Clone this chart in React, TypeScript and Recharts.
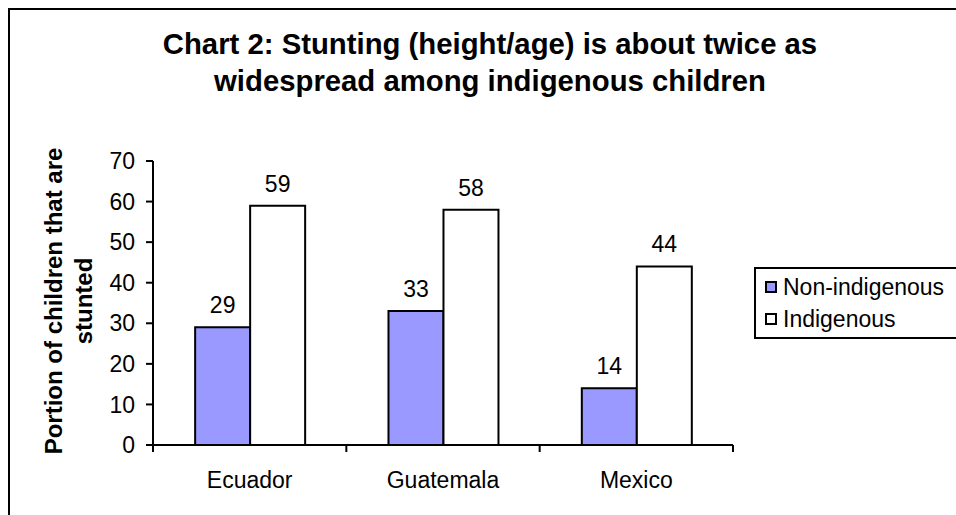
import React from "react";
import { Bar, BarChart, LabelList, Legend, XAxis, YAxis } from "recharts";

const countries = ["Ecuador", "Guatemala", "Mexico"];
const nonIndigenous = [29, 33, 14];
const indigenous = [59, 58, 44];
const yTicks = [0, 10, 20, 30, 40, 50, 60, 70];
const seriesNames = ["Non-indigenous", "Indigenous"];

const titleLines = [
    "Chart 2: Stunting (height/age) is about twice as",
    "widespread among indigenous children",
];
const yLabelLines = ["Portion of children that are", "stunted"];

const data = countries.map((name, i) => ({
    name,
    nonIndigenous: nonIndigenous[i],
    indigenous: indigenous[i],
}));

const FONT = '"Liberation Sans", Arial, sans-serif';
const CHART_W = 956;
const CHART_H = 515;

// Excel puts category ticks between groups, not under them
function CategoryTick(props: any) {
    const { x, y, payload, index } = props;
    const band = props.width ? props.width / countries.length : 193.3;
    return (
        <g>
            <line x1={x - band / 2} x2={x - band / 2} y1={y} y2={y + 7} stroke="#000" strokeWidth={2} />
            {index === countries.length - 1 && (
                <line x1={x + band / 2} x2={x + band / 2} y1={y} y2={y + 7} stroke="#000" strokeWidth={2} />
            )}
            <text x={x} y={y + 43} textAnchor="middle" fontSize={23} fontFamily={FONT} fill="#000">
                {payload.value}
            </text>
        </g>
    );
}

function YTitle(props: any) {
    const vb = props.viewBox || { x: 93, y: 161, width: 60, height: 284 };
    const cy = vb.y + vb.height / 2 - 2;
    const cx = 62;
    return (
        <text
            x={cx}
            y={cy}
            transform={`rotate(-90, ${cx}, ${cy})`}
            textAnchor="middle"
            fontSize={24}
            fontWeight="bold"
            fontFamily={FONT}
            fill="#000"
        >
            {yLabelLines.map((line, i) => (
                <tspan key={line} x={cx} dy={i === 0 ? 0 : 30}>
                    {line}
                </tspan>
            ))}
        </text>
    );
}

function LegendBox({ payload }: any) {
    const items = [...(payload || [])].sort(
        (a: any, b: any) => seriesNames.indexOf(a.value) - seriesNames.indexOf(b.value)
    );
    return (
        <div
            style={{
                border: "2px solid #000",
                borderRight: "none",
                padding: "2px 0 2px 9px",
                fontFamily: FONT,
                fontSize: 23,
                background: "#fff",
                width: 300,
            }}
        >
            {items.map((entry: any) => (
                <div key={entry.value} style={{ display: "flex", alignItems: "center", height: 32 }}>
                    <span
                        style={{
                            display: "inline-block",
                            width: 8,
                            height: 8,
                            border: "2px solid #000",
                            background: entry.color,
                            marginRight: 6,
                        }}
                    />
                    <span>{entry.value}</span>
                </div>
            ))}
        </div>
    );
}

export default function App() {
    return (
        <div
            style={{
                position: "fixed",
                left: 0,
                top: 0,
                width: CHART_W,
                height: CHART_H,
                overflow: "hidden",
                background: "#fff",
                fontFamily: FONT,
            }}
        >
            <div
                style={{
                    position: "absolute",
                    left: 8,
                    top: 8,
                    width: 1100,
                    height: 700,
                    border: "2px solid #000",
                }}
            />
            <div
                style={{
                    position: "absolute",
                    left: 0,
                    top: 25,
                    width: 980,
                    textAlign: "center",
                    fontSize: 29.3,
                    fontWeight: "bold",
                    lineHeight: "37px",
                    color: "#000",
                }}
            >
                {titleLines.map((line) => (
                    <div key={line}>{line}</div>
                ))}
            </div>
            <div style={{ position: "absolute", left: 0, top: 0 }}>
                <BarChart
                    width={CHART_W}
                    height={CHART_H}
                    data={data}
                    margin={{ top: 161, right: 223, bottom: 20, left: 93 }}
                    barCategoryGap="21.8%"
                    barGap={0}
                >
                    <XAxis
                        dataKey="name"
                        height={50}
                        axisLine={{ stroke: "#000", strokeWidth: 2 }}
                        tickLine={false}
                        tickSize={0}
                        tickMargin={0}
                        interval={0}
                        tick={<CategoryTick />}
                    />
                    <YAxis
                        width={60}
                        domain={[0, 70]}
                        ticks={yTicks}
                        interval={0}
                        axisLine={{ stroke: "#000", strokeWidth: 2 }}
                        tickLine={{ stroke: "#000", strokeWidth: 2 }}
                        tickSize={7}
                        tickMargin={11}
                        tick={{ fill: "#000", fontSize: 23, fontFamily: FONT }}
                        label={{ content: <YTitle /> }}
                    />
                    <Legend
                        layout="vertical"
                        align="center"
                        verticalAlign="middle"
                        wrapperStyle={{ left: 754, top: 267, width: 300 }}
                        content={<LegendBox />}
                    />
                    <Bar
                        dataKey="nonIndigenous"
                        name={seriesNames[0]}
                        fill="#9999FF"
                        stroke="#000"
                        strokeWidth={2}
                        isAnimationActive={false}
                    >
                        <LabelList
                            dataKey="nonIndigenous"
                            position="top"
                            offset={14}
                            fill="#000"
                            fontSize={23}
                            fontFamily={FONT}
                        />
                    </Bar>
                    <Bar
                        dataKey="indigenous"
                        name={seriesNames[1]}
                        fill="#FFFFFF"
                        stroke="#000"
                        strokeWidth={2}
                        isAnimationActive={false}
                    >
                        <LabelList
                            dataKey="indigenous"
                            position="top"
                            offset={14}
                            fill="#000"
                            fontSize={23}
                            fontFamily={FONT}
                        />
                    </Bar>
                </BarChart>
            </div>
        </div>
    );
}
